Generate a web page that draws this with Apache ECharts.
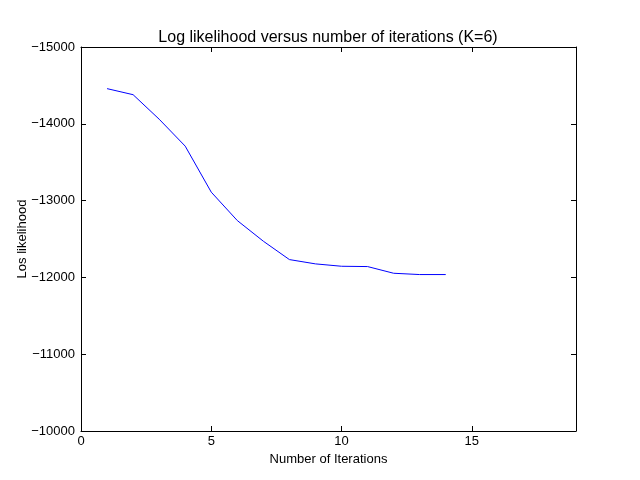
<!DOCTYPE html>
<html>
<head>
<meta charset="utf-8">
<script src="https://cdn.jsdelivr.net/npm/echarts@6/dist/echarts.min.js"></script>
<style>
  html, body { margin: 0; padding: 0; background: #fff; }
  #chart { width: 640px; height: 480px; }
</style>
</head>
<body>
<div id="chart"></div>
<script>
let iterations = [1, 2, 3, 4, 5, 6, 7, 8, 9, 10, 11, 12, 13, 14]
let log_likelihood = [-14458, -14379, -14060, -13709, -13110, -12740, -12471, -12232, -12176, -12145, -12141, -12054, -12037, -12037]
let x_ticks = [0, 5, 10, 15]
let y_ticks = [-15000, -14000, -13000, -12000, -11000, -10000]

let chart = echarts.init(document.getElementById('chart'))
let font = 'Liberation Sans, Arial, Helvetica, sans-serif'

function fmt_minus(v) {
    return v < 0 ? '\u2212' + Math.abs(v) : '' + v
}

let tick_style = { inside: true, length: 5, lineStyle: { color: '#000', width: 1 } }

option = {
    animation: false,
    title: {
        text: 'Log likelihood versus number of iterations (K=6)',
        left: 323, top: 25, textAlign: 'center',
        textStyle: { fontFamily: font, fontSize: 16, fontWeight: 'normal', color: '#000' }
    },
    grid: { left: 81, right: 64, top: 47, bottom: 49, show: false },
    xAxis: [
        {
            type: 'value', min: 0, max: 19, interval: 5,
            name: 'Number of Iterations', nameLocation: 'middle', nameGap: 21,
            nameTextStyle: { fontFamily: font, fontSize: 13, color: '#000' },
            axisLine: { lineStyle: { color: '#000', width: 1 } },
            axisTick: tick_style,
            splitLine: { show: false },
            axisLabel: {
                fontFamily: font, fontSize: 13, color: '#000', margin: 4, showMaxLabel: false,
                formatter: function (v) { return x_ticks.indexOf(v) >= 0 ? fmt_minus(v) : '' }
            }
        },
        {
            type: 'value', min: 0, max: 19, interval: 5, position: 'top',
            axisLine: { onZero: false, lineStyle: { color: '#000', width: 1 } },
            axisTick: tick_style,
            axisLabel: { show: false },
            splitLine: { show: false }
        }
    ],
    yAxis: [
        {
            type: 'value', inverse: true, min: -15000, max: -10000, interval: 1000,
            name: 'Los likelihood', nameLocation: 'middle', nameGap: 52, nameRotate: 90,
            nameMoveOverlap: false,
            nameTextStyle: { fontFamily: font, fontSize: 13, color: '#000' },
            axisLine: { show: true, onZero: false, lineStyle: { color: '#000', width: 1 } },
            axisTick: tick_style,
            splitLine: { show: false },
            axisLabel: {
                fontFamily: font, fontSize: 13, color: '#000', margin: 6,
                formatter: function (v) { return y_ticks.indexOf(v) >= 0 ? fmt_minus(v) : '' }
            }
        },
        {
            type: 'value', inverse: true, min: -15000, max: -10000, interval: 1000, position: 'right',
            axisLine: { show: true, onZero: false, lineStyle: { color: '#000', width: 1 } },
            axisTick: tick_style,
            axisLabel: { show: false },
            splitLine: { show: false }
        }
    ],
    series: [
        {
            type: 'line',
            data: iterations.map(function (x, i) { return [x, log_likelihood[i]] }),
            showSymbol: false,
            lineStyle: { color: '#0000ff', width: 1 },
            itemStyle: { color: '#0000ff' }
        }
    ]
}
chart.setOption(option)
</script>
</body>
</html>
